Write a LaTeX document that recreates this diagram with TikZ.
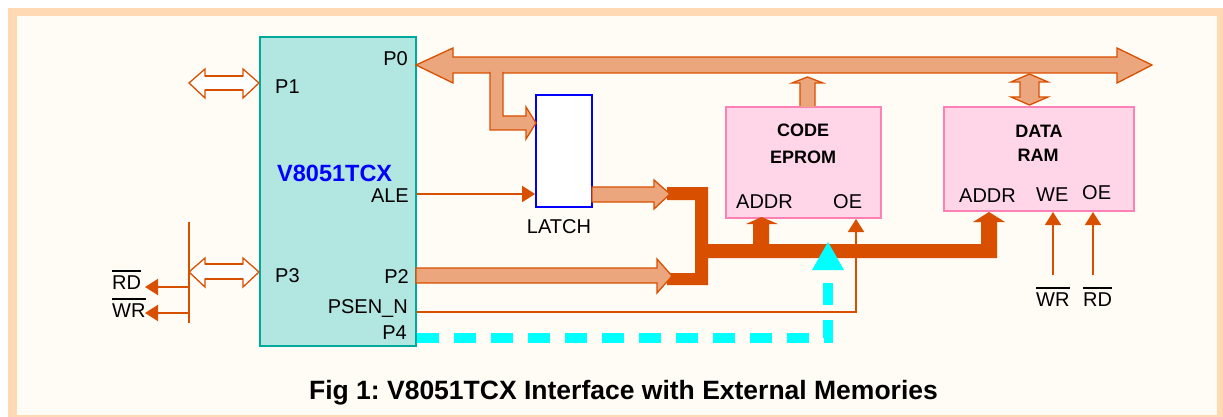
\documentclass[tikz,border=0pt]{standalone}
\usepackage{fontspec}
\setmainfont{Liberation Sans}
\usetikzlibrary{arrows.meta}
\definecolor{org}{RGB}{217,79,0}
\definecolor{sal}{RGB}{236,166,126}
\definecolor{tealb}{RGB}{0,169,157}
\definecolor{tealf}{RGB}{178,230,225}
\definecolor{pinkf}{RGB}{255,214,232}
\definecolor{pinkb}{RGB}{255,128,180}
\definecolor{bgc}{RGB}{255,251,245}
\definecolor{frm}{RGB}{255,216,180}
\definecolor{cyn}{RGB}{0,255,255}
\frenchspacing
\newcommand\ovl[1]{\leavevmode\vbox{\hrule height 1.6pt\kern3.5pt\hbox{#1}}}
\tikzset{
 lbl/.style={inner sep=0pt, font=\fontsize{20}{24}\selectfont},
 blbl/.style={inner sep=0pt, font=\fontsize{18}{22}\selectfont\bfseries},
 fat/.style={fill=sal, draw=org, line width=1.3pt, line join=miter},
 hollow/.style={fill=white, draw=org, line width=1.3pt, line join=miter},
 sig/.style={draw=org, line width=1.8pt, -{Triangle[length=13pt,width=16pt]}},
 plain/.style={draw=org, line width=1.8pt},
 chipbox/.style={draw=tealb, fill=tealf, line width=2pt, inner sep=0pt},
 membox/.style={draw=pinkb, fill=pinkf, line width=2pt, inner sep=0pt},
 latchbox/.style={draw=blue, fill=white, line width=1.8pt, inner sep=0pt},
}
\begin{document}
\begin{tikzpicture}[x=1pt,y=-1pt]
\useasboundingbox (0,0) rectangle (1223,417);
% frame
\fill[frm] (8,8) rectangle (1223,417);
\fill[bgc] (17,16) rectangle (1217,415);

% boxes
\node[chipbox, minimum width=156pt, minimum height=309pt] (mcu) at (338,191.5) {};
\node[latchbox, minimum width=56pt, minimum height=112pt] (latch) at (564,151) {};
\node[membox, minimum width=155pt, minimum height=111pt] (eprom) at (803.5,162.5) {};
\node[membox, minimum width=190pt, minimum height=104pt] (ram) at (1039,159) {};

% MCU labels
\node[lbl, anchor=base east] (p0) at (408,66) {P0};
\node[lbl, anchor=base west] (p1) at (275,94) {P1};
\node[inner sep=0pt, anchor=base west, text=blue, font=\fontsize{23.5}{28}\selectfont\bfseries] (name) at (277,181) {V8051TCX};
\node[lbl, anchor=base east] (ale) at (409,202) {ALE};
\node[lbl, anchor=base west] (p3) at (275,282) {P3};
\node[lbl, anchor=base east] (p2) at (409,283) {P2};
\node[lbl, anchor=base east] (psen) at (408,313) {PSEN\_N};
\node[lbl, anchor=base east] (p4) at (407,339) {P4};
\node[lbl, anchor=base] (latchl) at (559,233) {LATCH};

% memory labels
\node[blbl, anchor=base] (code) at (803,137) {CODE};
\node[blbl, anchor=base] (ep) at (803,163) {EPROM};
\node[lbl, anchor=base west] (eaddr) at (736,208) {ADDR};
\node[lbl, anchor=base west] (eoe) at (833,208) {OE};
\node[blbl, anchor=base] (data) at (1039,138) {DATA};
\node[blbl, anchor=base] (ramt) at (1038,161) {RAM};
\node[lbl, anchor=base west] (raddr) at (959,202) {ADDR};
\node[lbl, anchor=base west] (rwe) at (1036,201) {WE};
\node[lbl, anchor=base west] (roe) at (1082,199) {OE};
\node[lbl, anchor=base west] (wr2) at (1036,306) {\ovl{WR}};
\node[lbl, anchor=base west] (rd2) at (1083,306) {\ovl{RD}};
\node[lbl, anchor=base west] (rd1) at (112,289) {\ovl{RD}};
\node[lbl, anchor=base west] (wr1) at (112,317) {\ovl{WR}};

% caption
\node[inner sep=0pt, anchor=base, font=\fontsize{26.5}{32}\selectfont\bfseries] (cap) at (623.5,399) {Fig 1: V8051TCX Interface with External Memories};

% P1, P3 hollow double arrows
\draw[hollow] (189,83) -- (205,69) -- (205,76) -- (243,76) -- (243,69) -- (259,83) -- (243,98) -- (243,90) -- (205,90) -- (205,98) -- cycle;
\draw[org, line width=2.2pt] (205,76) -- (243,76) (205,90) -- (243,90);
\draw[hollow] (189,272) -- (205,258) -- (205,264) -- (243,264) -- (243,258) -- (259,272) -- (243,287) -- (243,279) -- (205,279) -- (205,287) -- cycle;
\draw[org, line width=2.2pt] (205,264) -- (243,264) (205,279) -- (243,279);

% P3 side lines
\coordinate (vtop) at (189,222);
\coordinate (vbot) at (189,323);
\draw[plain] (vtop) -- (vbot);
\draw[sig] (189,287) -- (145,287);
\draw[sig] (189,313) -- (145,313);

% P0 bus
\draw[fat] (416,65) -- (453,48) -- (453,57) -- (1117,57) -- (1117,48) -- (1152,65) -- (1117,83) -- (1117,73) -- (453,73) -- (453,83) -- cycle;
% branch to latch
\draw[fat] (490,72) -- (490,130) -- (526,130) -- (526,139) -- (536,123) -- (526,107) -- (526,116) -- (503,116) -- (503,72);
\fill[sal] (491,72) rectangle (502,76);

% EPROM up arrow
\fill[sal] (800,107) -- (800,83) -- (792,83) -- (807.5,77) -- (823,83) -- (815,83) -- (815,107) -- cycle;
\draw[draw=org, line width=1.3pt, line join=miter] (800,106) -- (800,83) -- (792,83) -- (807.5,77) -- (823,83) -- (815,83) -- (815,106);
% RAM double arrow
\draw[fat] (1029.5,74) -- (1048,82) -- (1039,82) -- (1039,97) -- (1048,97) -- (1029.5,105) -- (1011,97) -- (1020,97) -- (1020,82) -- (1011,82) -- cycle;

% dark address bus
\fill[org] (667,187) -- (708,187) -- (708,244) -- (981,244) -- (981,222) -- (973,222) -- (989,212) -- (1005,222) -- (997,222) -- (997,258) -- (708,258) -- (708,285) -- (667,285) -- (667,273) -- (695,273) -- (695,200) -- (667,200) -- cycle;
\fill[org] (753,244) -- (753,224) -- (746,224) -- (761.5,217) -- (778,224) -- (769,224) -- (769,244) -- cycle;

% latch output and P2 fat arrows
\draw[fat] (592,187) -- (654,187) -- (654,180) -- (670,194) -- (654,209) -- (654,202) -- (592,202) -- cycle;
\draw[fat] (416,268) -- (657,268) -- (657,259) -- (672,276) -- (657,293) -- (657,283) -- (416,283) -- cycle;

% ALE
\draw[sig] (mcu.east |- 0,194) -- (latch.west |- 0,194);
% PSEN_N to OE
\draw[sig] (mcu.east |- 0,312) -- (856,312) -- (856,0 |- eprom.south);
% WE, OE of RAM
\draw[sig] (1053,275) -- (1053,0 |- ram.south);
\draw[sig] (1093,275) -- (1093,0 |- ram.south);

% P4 cyan dashed
\draw[cyn, line width=10pt, dash pattern=on 22pt off 15pt] (mcu.east |- 0,338) -- (828,338) -- (828,268);
\fill[cyn] (812,270) -- (844,270) -- (828,242) -- cycle;
\end{tikzpicture}
\end{document}
